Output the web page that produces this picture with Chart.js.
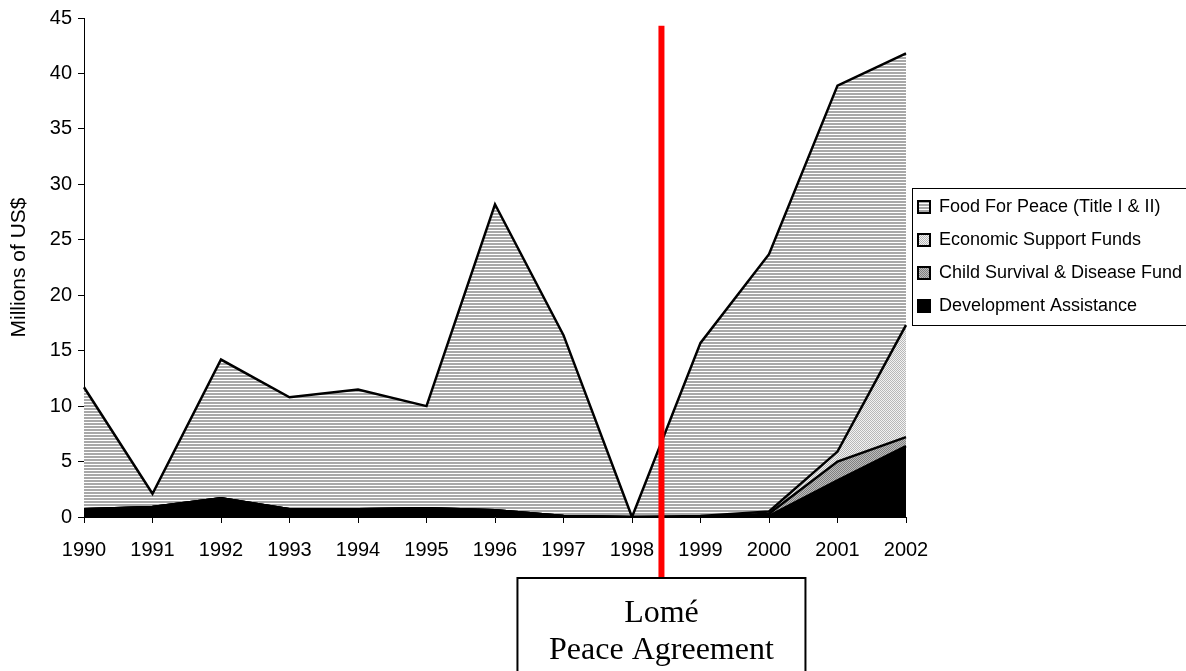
<!DOCTYPE html>
<html lang="en">
<head>
<meta charset="UTF-8">
<title>US aid by year</title>
<script src="https://cdn.jsdelivr.net/npm/chart.js@4.4.1/dist/chart.umd.min.js"></script>
<style>
  html, body { margin: 0; padding: 0; background: #fff; }
  #chart { display: block; }
</style>
</head>
<body>
<canvas id="chart" width="1186" height="671"></canvas>
<script>
// values in millions of US$
const years = ['1990', '1991', '1992', '1993', '1994', '1995', '1996', '1997', '1998', '1999', '2000', '2001', '2002'];
const devAssistance = [0.7, 0.9, 1.7, 0.7, 0.7, 0.8, 0.6, 0.1, 0, 0, 0.1, 3.3, 6.4];
const childSurvival = [0, 0, 0, 0, 0, 0, 0, 0, 0, 0, 0.2, 1.7, 0.8];
const econSupport = [0, 0, 0, 0, 0, 0, 0, 0, 0, 0.1, 0.2, 0.9, 10.1];
const foodForPeace = [11.0, 1.2, 12.5, 10.1, 10.8, 9.2, 27.6, 16.3, 0, 15.6, 23.2, 33.0, 24.5];
const seriesNames = ['Development Assistance', 'Child Survival & Disease Fund', 'Economic Support Funds', 'Food For Peace (Title I & II)'];
const yMax = 45;
const yStep = 5;
const peaceAt = 8.43;     // Lomé agreement, between 1998 and 1999 (category index)
const peaceLabel = ['Lomé', 'Peace Agreement'];

const FONT = '"Liberation Sans", Arial, sans-serif';

function makePattern(w, h, paint) {
  const c = document.createElement('canvas');
  c.width = w; c.height = h;
  const g = c.getContext('2d');
  paint(g);
  return document.getElementById('chart').getContext('2d').createPattern(c, 'repeat');
}
const stripes = makePattern(4, 3, g => {
  g.fillStyle = '#fff'; g.fillRect(0, 0, 4, 3);
  g.fillStyle = '#a8a8a8'; g.fillRect(0, 0, 4, 2);
});
const lightDots = makePattern(2, 2, g => {
  g.fillStyle = '#f2f2f2'; g.fillRect(0, 0, 2, 2);
  g.fillStyle = '#b8b8b8'; g.fillRect(0, 0, 1, 1); g.fillRect(1, 1, 1, 1);
});
const darkDots = makePattern(2, 2, g => {
  g.fillStyle = '#bdbdbd'; g.fillRect(0, 0, 2, 2);
  g.fillStyle = '#808080'; g.fillRect(0, 0, 1, 1); g.fillRect(1, 1, 1, 1);
});

const peacePlugin = {
  id: 'peace',
  afterLayout(chart) {
    // legend block sits a little above the middle, as in the original
    const lg = chart.legend;
    lg.top = 170;
    lg.bottom = 343;
    lg.height = 173;
    lg.left -= 3;
    lg.right -= 3;
  },
  afterDraw(chart) {
    const ctx = chart.ctx;
    const x = chart.scales.x.getPixelForValue(peaceAt);
    const top = chart.scales.y.getPixelForValue(44.3);
    const boxTop = 578;
    ctx.save();
    ctx.fillStyle = '#ff0000';
    ctx.fillRect(x - 3, top, 6, boxTop - top);
    ctx.fillStyle = '#fff';
    ctx.strokeStyle = '#000';
    ctx.lineWidth = 2;
    ctx.fillRect(x - 144, boxTop, 288, 120);
    ctx.strokeRect(x - 144, boxTop, 288, 120);
    ctx.fillStyle = '#000';
    ctx.font = '32px "Liberation Serif", "Times New Roman", serif';
    ctx.textAlign = 'center';
    ctx.textBaseline = 'alphabetic';
    ctx.fillText(peaceLabel[0], x, 622);
    ctx.fillText(peaceLabel[1], x, 659);

    // frame round the legend
    const lg = chart.legend;
    ctx.lineWidth = 1;
    ctx.strokeRect(lg.left + 9.5, lg.top + 18.5, chart.width - lg.left, lg.height - 36);
    ctx.restore();
  }
};

const ctx = document.getElementById('chart').getContext('2d');
const chart = new Chart(ctx, {
  type: 'line',
  data: {
    labels: years,
    datasets: [
      { label: seriesNames[0], data: devAssistance, backgroundColor: '#000', fill: 'origin' },
      { label: seriesNames[1], data: childSurvival, backgroundColor: darkDots, fill: '-1' },
      { label: seriesNames[2], data: econSupport, backgroundColor: lightDots, fill: '-1' },
      { label: seriesNames[3], data: foodForPeace, backgroundColor: stripes, fill: '-1' }
    ]
  },
  options: {
    responsive: false,
    animation: false,
    layout: { padding: { top: 0, bottom: 0, left: 0, right: 0 } },
    elements: {
      line: { tension: 0, borderColor: '#000', borderWidth: 2.5 },
      point: { radius: 0 }
    },
    plugins: {
      tooltip: { enabled: false },
      legend: {
        position: 'right',
        align: 'center',
        reverse: true,
        labels: {
          color: '#000',
          font: { family: FONT, size: 18 },
          boxWidth: 12,
          boxHeight: 12,
          padding: 15,
          generateLabels(chart) {
            return chart.data.datasets.map((ds, i) => ({
              text: ds.label,
              fillStyle: ds.backgroundColor,
              strokeStyle: '#000',
              lineWidth: 2,
              datasetIndex: i,
              hidden: false
            }));
          }
        }
      }
    },
    scales: {
      x: {
        offset: false,
        grid: { drawOnChartArea: false, drawTicks: true, tickLength: 6, color: '#000' },
        border: { color: '#000', width: 1 },
        ticks: { color: '#000', font: { family: FONT, size: 20 }, maxRotation: 0, autoSkip: false, padding: 15 },
        afterFit(scale) { scale.height = 154; }
      },
      y: {
        stacked: true,
        min: 0,
        max: yMax,
        grid: { drawOnChartArea: false, drawTicks: true, tickLength: 6, color: '#000' },
        border: { color: '#000', width: 1 },
        ticks: { stepSize: yStep, color: '#000', font: { family: FONT, size: 20 }, padding: 6 },
        title: { display: true, text: 'Millions of US$', color: '#000', font: { family: FONT, size: 21 }, padding: { top: 7, bottom: 0 } },
        afterFit(scale) { scale.width = 84; }
      }
    }
  },
  plugins: [peacePlugin]
});

// make the legend column as wide as in the original (chart area ends at x=906)
const legendFit = chart.legend.fit;
chart.legend.fit = function () {
  legendFit.call(this);
  this.width = 280;
};
chart.options.layout.padding.top = 17;
chart.update();
</script>
</body>
</html>
